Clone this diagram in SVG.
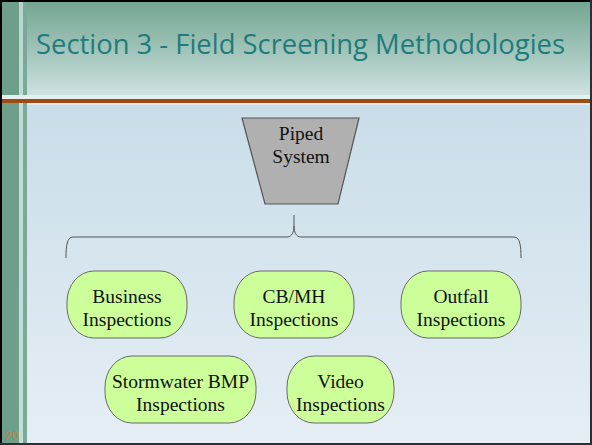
<svg xmlns="http://www.w3.org/2000/svg" width="592" height="445" viewBox="0 0 592 445">
  <defs>
    <linearGradient id="gTitle" x1="0" y1="0" x2="0" y2="1">
      <stop offset="0" stop-color="#74a592"/>
      <stop offset="0.5" stop-color="#9fc3b8"/>
      <stop offset="1" stop-color="#cfe2e3"/>
    </linearGradient>
    <linearGradient id="gBody" x1="0" y1="0" x2="0" y2="1">
      <stop offset="0" stop-color="#c9dde8"/>
      <stop offset="1" stop-color="#e6eef5"/>
    </linearGradient>
    <style>
      .node { fill: #ccff99; stroke: #6a6a6a; stroke-width: 1; }
      .lbl { font-family: "Liberation Serif", "Times New Roman", serif; font-size: 19.5px; fill: #111; text-anchor: middle; }
      .conn { fill: none; stroke: #555; stroke-width: 1; }
    </style>
  </defs>

  <!-- background -->
  <rect x="0" y="0" width="592" height="445" fill="#000"/>
  <rect x="2" y="2" width="588" height="94" fill="url(#gTitle)"/>
  <rect x="2" y="95" width="588" height="4" fill="#e4f0ee"/>
  <rect x="2" y="99" width="588" height="4" fill="#9c4b12"/>
  <rect x="2" y="103" width="588" height="2" fill="#dfeaee"/>
  <rect x="2" y="105" width="588" height="338" fill="url(#gBody)"/>
  <!-- left strips -->
  <rect x="2" y="2" width="17" height="441" fill="#6e9f8b"/>
  <rect x="19" y="2" width="4" height="441" fill="#bfdad4" opacity="0.9"/>
  <rect x="23" y="2" width="4" height="441" fill="#7aa999"/>
  <rect x="2" y="95" width="25" height="4" fill="#e4f0ee"/>
  <rect x="2" y="99" width="25" height="4" fill="#9c4b12"/>
  <rect x="590" y="0" width="2" height="445" fill="#2a3035"/>
  <rect x="0" y="443" width="592" height="2" fill="#2a3035"/>

  <text x="36" y="54" font-family="Open Sans, Lato, sans-serif" font-size="28" fill="#1f7c7c" textLength="529" lengthAdjust="spacingAndGlyphs">Section 3 - Field Screening Methodologies</text>
  <text x="5" y="440" font-family="Liberation Sans, Arial, sans-serif" font-size="12" fill="#c8803e">20</text>

  <g id="connectors">
    <path class="conn" d="M66,258 C66,246 67,237 73,237 L287,237 C292,237 294,232 294,226 L294,215 M294,226 C294,232 296,237 301,237 L514,237 C520,237 521,246 521,258"/>
  </g>

  <g id="piped">
    <polygon points="242,118 359,118 338,204 265,204" fill="#b0b0b0" stroke="#555" stroke-width="1.2"/>
    <text class="lbl" x="301" y="140">Piped</text>
    <text class="lbl" x="301" y="163">System</text>
  </g>

  <g id="business">
    <rect class="node" x="67" y="271" width="120" height="67" rx="27" ry="31"/>
    <text class="lbl" x="127" y="303">Business</text>
    <text class="lbl" x="127" y="326">Inspections</text>
  </g>
  <g id="cbmh">
    <rect class="node" x="234" y="271" width="120" height="67" rx="27" ry="31"/>
    <text class="lbl" x="294" y="303">CB/MH</text>
    <text class="lbl" x="294" y="326">Inspections</text>
  </g>
  <g id="outfall">
    <rect class="node" x="401" y="271" width="120" height="67" rx="27" ry="31"/>
    <text class="lbl" x="461" y="303">Outfall</text>
    <text class="lbl" x="461" y="326">Inspections</text>
  </g>
  <g id="stormwater">
    <rect class="node" x="105" y="356" width="151" height="67" rx="27" ry="31"/>
    <text class="lbl" x="180.5" y="388">Stormwater BMP</text>
    <text class="lbl" x="180.5" y="411">Inspections</text>
  </g>
  <g id="video">
    <rect class="node" x="287" y="356" width="107" height="67" rx="27" ry="31"/>
    <text class="lbl" x="340.5" y="388">Video</text>
    <text class="lbl" x="340.5" y="411">Inspections</text>
  </g>
</svg>
